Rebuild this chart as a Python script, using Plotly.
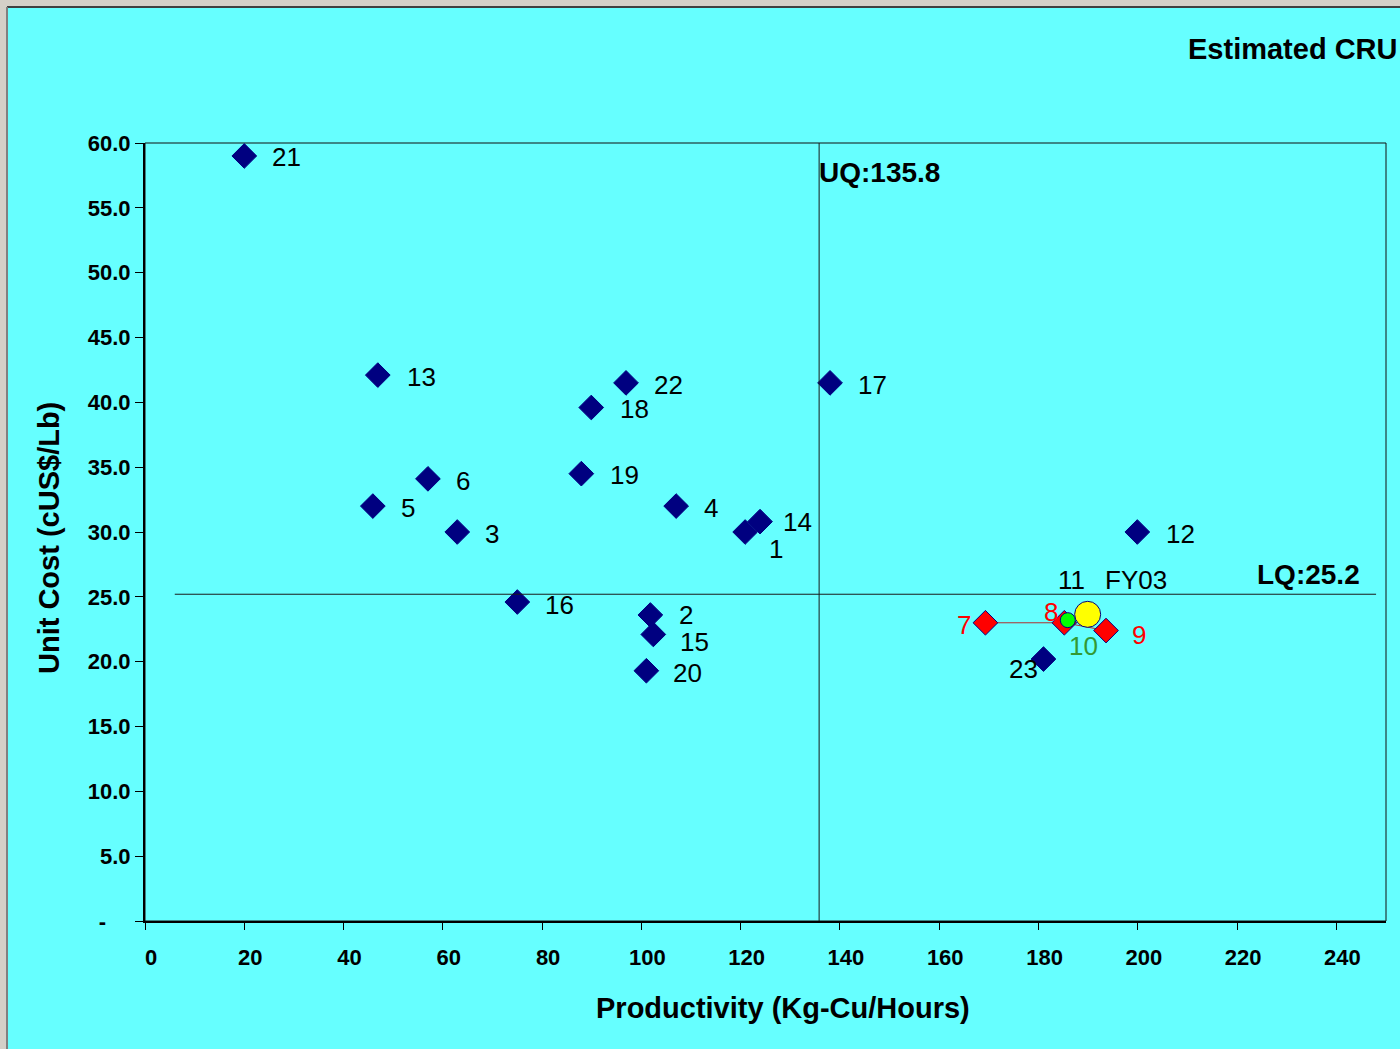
import plotly.graph_objects as go

# ---------------- data ----------------
mine_labels = ['21', '13', '22', '18', '17', '6', '19', '5', '4', '3', '1', '14',
               '12', '16', '2', '15', '20', '23']
productivity = [20.0, 46.9, 96.9, 89.9, 138.0, 57.0, 87.9, 45.9, 107.0, 62.9, 120.9, 123.9,
                199.9, 75.0, 101.8, 102.4, 101.0, 181.0]
unit_cost = [59.0, 42.1, 41.5, 39.6, 41.5, 34.1, 34.5, 32.0, 32.0, 30.0, 30.0, 30.8,
             30.0, 24.6, 23.6, 22.1, 19.3, 20.2]

red_labels = ['7', '8', '9']
red_x = [169.3, 185.2, 193.6]
red_y = [23.0, 23.0, 22.4]

green_labels = ['10']
green_x = [185.9]
green_y = [23.2]

fy03_labels = ['11', 'FY03']
fy03_x = [189.9]
fy03_y = [23.65]

UQ = 135.8
LQ = 25.2

x_ticks = [0, 20, 40, 60, 80, 100, 120, 140, 160, 180, 200, 220, 240]
y_ticks = [0, 5, 10, 15, 20, 25, 30, 35, 40, 45, 50, 55, 60]
y_ticktext = ['-\u00a0\u00a0\u00a0\u00a0', '5.0', '10.0', '15.0', '20.0', '25.0', '30.0',
              '35.0', '40.0', '45.0', '50.0', '55.0', '60.0']

# ---------------- styles ----------------
FONT = 'Liberation Sans, Arial, sans-serif'
BG = '#66FFFF'
NAVY = '#000080'
# label placement: (xanchor, xshift, yshift)
label_style = {
    '21': ('left', 26, -1), '13': ('left', 27, -2), '22': ('left', 26, -2),
    '18': ('left', 27, -1), '17': ('left', 26, -2), '6': ('left', 26, -2),
    '19': ('left', 27, -1), '5': ('left', 26, -2), '4': ('left', 26, -2),
    '3': ('left', 26, -2), '1': ('left', 22, -17), '14': ('left', 21, 0),
    '12': ('left', 27, -2), '16': ('left', 26, -3), '2': ('left', 27, 0),
    '15': ('left', 25, -8), '20': ('left', 25, -2), '23': ('right', -3, -10),
    '7': ('right', -12, -2), '8': ('right', -4, 11), '9': ('left', 24, -4),
    '10': ('left', -1, -26), '11': ('left', -32, 34), 'FY03': ('left', 15, 34),
}

fig = go.Figure()

# connecting line for red series
fig.add_trace(go.Scatter(x=red_x, y=red_y, mode='lines',
                         line=dict(color='#B03030', width=1), hoverinfo='skip',
                         showlegend=False))

fig.add_trace(go.Scatter(x=productivity, y=unit_cost, mode='markers',
                         marker=dict(symbol='diamond', size=19, color=NAVY,
                                     line=dict(color=NAVY, width=1)),
                         text=mine_labels, showlegend=False))

fig.add_trace(go.Scatter(x=red_x, y=red_y, mode='markers',
                         marker=dict(symbol='diamond', size=19, color='#FF0000',
                                     line=dict(color=NAVY, width=1)),
                         text=red_labels, showlegend=False))

fig.add_trace(go.Scatter(x=green_x, y=green_y, mode='markers',
                         marker=dict(symbol='circle', size=15, color='#00FF00',
                                     line=dict(color=NAVY, width=1)),
                         text=green_labels, showlegend=False))

fig.add_trace(go.Scatter(x=fy03_x, y=fy03_y, mode='markers',
                         marker=dict(symbol='circle', size=26, color='#FFFF00',
                                     line=dict(color=NAVY, width=1)),
                         text=['FY03'], showlegend=False))

annotations = []


def add_label(txt, x, y, color):
    xa, xs, ys = label_style[txt]
    annotations.append(dict(x=x, y=y, xref='x', yref='y', text=txt, showarrow=False,
                            xanchor=xa, yanchor='middle', xshift=xs, yshift=ys,
                            font=dict(family=FONT, size=26, color=color)))


for t, x, y in zip(mine_labels, productivity, unit_cost):
    add_label(t, x, y, 'black')
for t, x, y in zip(red_labels, red_x, red_y):
    add_label(t, x, y, '#FF0000')
for t, x, y in zip(green_labels, green_x, green_y):
    add_label(t, x, y, '#339933')
for t in fy03_labels:
    add_label(t, fy03_x[0], fy03_y[0], 'black')

bold = dict(family=FONT, size=28, color='black', weight='bold')
bold29 = dict(family=FONT, size=29, color='black', weight='bold')

annotations.append(dict(x=UQ, y=57.7, xref='x', yref='y', text='UQ:%.1f' % UQ,
                        showarrow=False, xanchor='left', yanchor='middle', xshift=-2,
                        font=bold))
annotations.append(dict(x=245.2, y=LQ, xref='x', yref='y', text='LQ:%.1f' % LQ,
                        showarrow=False, xanchor='right', yanchor='middle', yshift=20,
                        font=bold))
annotations.append(dict(x=(1186 - 145) / 1241, y=(921 - 49) / 778, xref='paper', yref='paper',
                        text='Estimated CRU', showarrow=False, xanchor='left',
                        yanchor='middle', font=bold29))
annotations.append(dict(x=(783 - 145) / 1241, y=(921 - 1008) / 778, xref='paper', yref='paper',
                        text='Productivity (Kg-Cu/Hours)', showarrow=False, xanchor='center',
                        yanchor='middle', font=bold29))
annotations.append(dict(x=(49 - 145) / 1241, y=(921 - 538) / 778, xref='paper', yref='paper',
                        text='Unit Cost (cUS$/Lb)', showarrow=False, xanchor='center',
                        yanchor='middle', textangle=-90, font=bold29))

shapes = [
    # quartile lines
    dict(type='line', xref='x', yref='y', x0=UQ, x1=UQ, y0=0, y1=60,
         line=dict(color='#1A1A1A', width=1)),
    dict(type='line', xref='x', yref='y', x0=6.0, x1=248.0, y0=LQ, y1=LQ,
         line=dict(color='#1A1A1A', width=1)),
    # plot frame
    dict(type='rect', xref='paper', yref='paper', x0=0, x1=1, y0=0, y1=1,
         line=dict(color='#101010', width=1), layer='below'),
    # window border (grey)
    dict(type='rect', xref='paper', yref='paper', x0=-0.2, x1=1.1,
         y0=(921 - 7) / 778, y1=1.25, fillcolor='#D4D0C8', line=dict(width=0)),
    dict(type='rect', xref='paper', yref='paper', x0=-0.2, x1=(7 - 145) / 1241,
         y0=-0.25, y1=1.25, fillcolor='#D4D0C8', line=dict(width=0)),
    dict(type='line', xref='paper', yref='paper', x0=(7 - 145) / 1241, x1=1.1,
         y0=(921 - 7) / 778, y1=(921 - 7) / 778, line=dict(color='#404040', width=2)),
    dict(type='line', xref='paper', yref='paper', x0=(7 - 145) / 1241, x1=(7 - 145) / 1241,
         y0=-0.25, y1=(921 - 7) / 778, line=dict(color='#808080', width=2)),
]

tickfont = dict(family=FONT, size=22, color='black', weight='bold')

fig.update_layout(
    width=1400, height=1049,
    margin=dict(l=145, r=14, t=143, b=128),
    paper_bgcolor=BG, plot_bgcolor=BG,
    annotations=annotations, shapes=shapes,
    showlegend=False,
    xaxis=dict(range=[0, 250], tickvals=x_ticks, ticktext=[str(v) for v in x_ticks],
               showgrid=False, zeroline=False, showline=True, linecolor='black',
               linewidth=2, ticks='outside', ticklen=7, tickcolor='black', tickwidth=1,
               tickfont=tickfont, ticklabelshift=6, ticklabelstandoff=9),
    yaxis=dict(range=[0, 60], tickvals=y_ticks, ticktext=y_ticktext,
               showgrid=False, zeroline=False, showline=True, linecolor='black',
               linewidth=2, ticks='outside', ticklen=8, tickcolor='black', tickwidth=1,
               tickfont=tickfont, ticklabelstandoff=0),
)

fig.write_html('out.html', include_plotlyjs=True, full_html=True,
               config={'displayModeBar': False},
               post_script="document.body.style.margin='0px';document.body.style.overflow='hidden';")
